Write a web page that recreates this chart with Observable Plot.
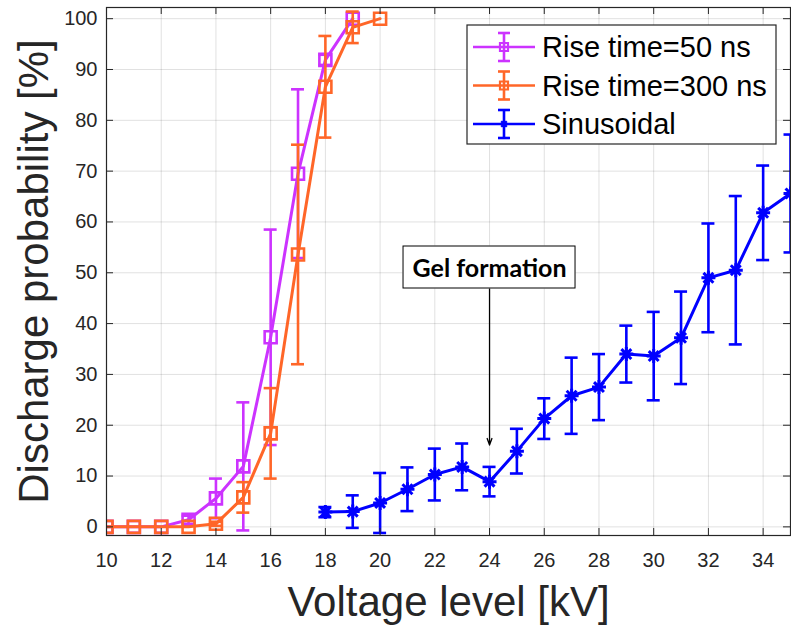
<!DOCTYPE html>
<html><head><meta charset="utf-8">
<script src="https://cdn.jsdelivr.net/npm/d3@7"></script>
<script src="https://cdn.jsdelivr.net/npm/@observablehq/plot@0.6"></script>
<style>
body{margin:0;background:#fff;}
#wrap{position:relative;width:791px;height:628px;overflow:hidden;}
#gel{position:absolute;box-sizing:border-box;border:1.6px solid #000;background:#fff;font:700 25px Lato,"Open Sans",sans-serif;line-height:29px;color:#000;padding:6px 8px 6px 9px;white-space:nowrap;transform:translate(-50%,-50%);}
#legend{position:absolute;}
</style></head><body><div id="wrap"></div>
<script>
// ---- data ----
const seriesNames = ["Rise time=50 ns", "Rise time=300 ns", "Sinusoidal"];
const seriesColors = ["#cc33ff", "#ff6628", "#0000ff"];

const voltage50 = [10, 11, 12, 13, 14, 15, 16, 17, 18, 19];
const prob50    = [0, 0, 0, 1.4, 5.6, 11.9, 37.3, 69.5, 91.9, 100];
const err50     = [0, 0, 0, 0.8, 3.9, 12.6, 21.2, 16.6, 1.0, 0];

const voltage300 = [10, 11, 12, 13, 14, 15, 16, 17, 18, 19, 20];
const prob300    = [0, 0, 0, 0, 0.6, 5.8, 18.4, 53.6, 86.6, 98.3, 100];
const err300     = [0, 0, 0, 0, 0.4, 3.0, 8.9, 21.6, 10.0, 3.1, 0];

const voltageSin = [18, 19, 20, 21, 22, 23, 24, 25, 26, 27, 28, 29, 30, 31, 32, 33, 34, 35];
const probSin    = [2.9, 3.0, 4.7, 7.4, 10.3, 11.8, 8.9, 14.9, 21.3, 25.8, 27.5, 34.0, 33.6, 37.2, 49.0, 50.5, 61.8, 65.6];
const errSin     = [1.0, 3.2, 5.9, 4.3, 5.1, 4.6, 2.9, 4.4, 4.0, 7.5, 6.5, 5.6, 8.7, 9.1, 10.7, 14.6, 9.3, 11.6];

const xTicks = [10, 12, 14, 16, 18, 20, 22, 24, 26, 28, 30, 32, 34];
const yTicks = [0, 10, 20, 30, 40, 50, 60, 70, 80, 90, 100];
const xTitle = "Voltage level [kV]";
const yTitle = "Discharge probability [%]";

const annotation = [{x: 24, labelY: 51.1, tipY: 16.1, text: "Gel formation"}];

// ---- layout ----
const W = 791, H = 628, mL = 106, mR = 1, mT = 7, mB = 93;
const fw = W - mL - mR, fh = H - mT - mB;
const axisColor = "#262626";
const tickLen = 7;

function rows(xs, ys, es) {
  return xs.map((x, i) => ({x, y: ys[i], lo: ys[i] - es[i], hi: ys[i] + es[i]}));
}
const datasets = [rows(voltage50, prob50, err50), rows(voltage300, prob300, err300), rows(voltageSin, probSin, errSin)];

const squareSym = {draw(ctx, size) { const s = Math.sqrt(size / Math.PI); ctx.rect(-s, -s, 2 * s, 2 * s); }};
const starSym = {draw(ctx, size) {
  const r = Math.sqrt(size / Math.PI), d = r * Math.SQRT1_2;
  ctx.moveTo(-r, 0); ctx.lineTo(r, 0); ctx.moveTo(0, -r); ctx.lineTo(0, r);
  ctx.moveTo(-d, -d); ctx.lineTo(d, d); ctx.moveTo(-d, d); ctx.lineTo(d, -d);
}};
const symbols = [squareSym, squareSym, starSym];
const symR = [6, 6, 7];

function seriesMarks(data, i) {
  const c = seriesColors[i];
  const withErr = data.filter(d => d.hi > d.lo);
  return [
    Plot.line(data, {x: "x", y: "y", stroke: c, strokeWidth: 3, clip: true}),
    Plot.ruleX(withErr, {x: "x", y1: "lo", y2: "hi", stroke: c, strokeWidth: 2.6, clip: true}),
    Plot.ruleY(withErr, {y: "hi", x1: "x", x2: "x", insetLeft: -6.5, insetRight: -6.5, stroke: c, strokeWidth: 2.6, clip: true}),
    Plot.ruleY(withErr, {y: "lo", x1: "x", x2: "x", insetLeft: -6.5, insetRight: -6.5, stroke: c, strokeWidth: 2.6, clip: true}),
    Plot.dot(data, {x: "x", y: "y", symbol: symbols[i], r: symR[i], stroke: c, strokeWidth: i === 2 ? 3 : 2.6, fill: "none", clip: true})
  ];
}

const chart = Plot.plot({
  width: W, height: H,
  marginLeft: mL, marginRight: mR, marginTop: mT, marginBottom: mB,
  style: {fontFamily: "'Liberation Sans', Arial, sans-serif", fontSize: "20px", color: axisColor, background: "#fff"},
  x: {domain: [10, 35]},
  y: {domain: [-1.7, 102.2]},
  marks: [
    Plot.gridX(xTicks, {stroke: "#000", strokeOpacity: 0.12, strokeWidth: 1}),
    Plot.gridY(yTicks, {stroke: "#000", strokeOpacity: 0.12, strokeWidth: 1}),
    Plot.arrow(annotation, {x1: "x", x2: "x", y1: "labelY", y2: "tipY", stroke: "#000", strokeWidth: 1.3, headLength: 8, headAngle: 40}),
    ...datasets.flatMap((d, i) => seriesMarks(d, i)),
    // inward ticks on all four sides
    Plot.ruleX(xTicks, {insetTop: fh - tickLen, stroke: axisColor}),
    Plot.ruleX(xTicks, {insetBottom: fh - tickLen, stroke: axisColor}),
    Plot.ruleY(yTicks, {insetRight: fw - tickLen, stroke: axisColor}),
    Plot.ruleY(yTicks, {insetLeft: fw - tickLen, stroke: axisColor}),
    Plot.frame({stroke: axisColor, strokeWidth: 1.2}),
    Plot.axisX(xTicks, {tickSize: 0, tickPadding: 17, label: null, fill: axisColor}),
    Plot.axisY(yTicks, {tickSize: 0, tickPadding: 9, label: null, fill: axisColor}),
    Plot.text([xTitle], {text: d => d, frameAnchor: "bottom", textAnchor: "middle", lineAnchor: "middle", dy: 67, fontSize: 42, fill: axisColor}),
    Plot.text([yTitle], {text: d => d, frameAnchor: "left", textAnchor: "middle", lineAnchor: "middle", rotate: -90, dx: -72, fontSize: 42, fill: axisColor})
  ]
});

const wrap = document.getElementById("wrap");
wrap.appendChild(chart);

const xs = chart.scale("x"), ys = chart.scale("y");

// annotation box
annotation.forEach(a => {
  const div = document.createElement("div");
  div.id = "gel";
  div.textContent = a.text;
  div.style.left = xs.apply(a.x) + "px";
  div.style.top = ys.apply(a.labelY) + "px";
  wrap.appendChild(div);
});

// legend (inside the axes, top right)
const lg = d3.select(wrap).append("svg").attr("id", "legend")
  .attr("width", 312).attr("height", 122)
  .style("left", "466px").style("top", "24px");
lg.append("rect").attr("x", 1).attr("y", 1).attr("width", 309).attr("height", 119)
  .attr("fill", "#fff").attr("stroke", axisColor).attr("stroke-width", 1.2);
seriesNames.forEach((name, i) => {
  const cy = 23 + i * 38.5, c = seriesColors[i], mx = 38;
  const g = lg.append("g").attr("stroke", c).attr("stroke-width", 2.6).attr("fill", "none");
  g.append("line").attr("x1", 7).attr("x2", 69).attr("y1", cy).attr("y2", cy);
  g.append("line").attr("x1", mx).attr("x2", mx).attr("y1", cy - 14).attr("y2", cy + 14);
  g.append("line").attr("x1", mx - 6).attr("x2", mx + 6).attr("y1", cy - 14).attr("y2", cy - 14);
  g.append("line").attr("x1", mx - 6).attr("x2", mx + 6).attr("y1", cy + 14).attr("y2", cy + 14);
  const p = d3.path();
  symbols[i].draw(p, Math.PI * 16);
  g.append("path").attr("d", p.toString()).attr("transform", `translate(${mx},${cy})`).attr("stroke-width", 2.2);
  lg.append("text").attr("x", 76).attr("y", cy + 10).text(name)
    .attr("fill", "#000").style("font", "29px 'Liberation Sans', Arial, sans-serif");
});
</script>
</body></html>
